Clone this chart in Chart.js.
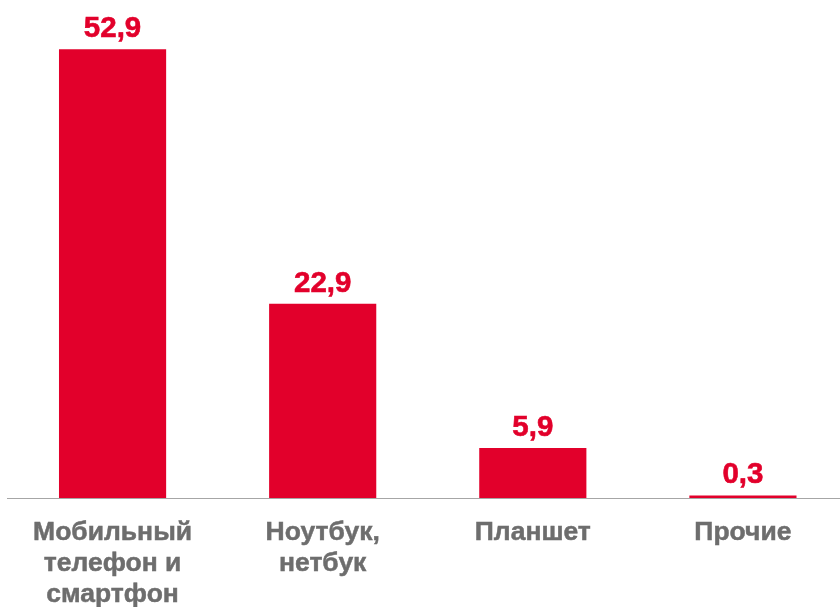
<!DOCTYPE html>
<html><head><meta charset="utf-8">
<script src="https://cdn.jsdelivr.net/npm/chart.js@4/dist/chart.umd.min.js"></script>
<style>html,body{margin:0;padding:0;overflow:hidden;background:#fff;width:840px;height:607px}
#wrap{width:848px;height:607px}</style>
</head><body>
<div id="wrap"><canvas id="c" width="848" height="607"></canvas></div>
<script>
const categories = [['Мобильный','телефон и','смартфон'], ['Ноутбук,','нетбук'], ['Планшет'], ['Прочие']];
const values = [52.9, 22.9, 5.9, 0.3];
const valueLabels = ['52,9', '22,9', '5,9', '0,3'];

const RED = '#e2002b';
const GRAY = '#6d6d6d';
const labelPlugin = {
  id: 'vals',
  afterDatasetsDraw(chart) {
    const ctx = chart.ctx;
    const meta = chart.getDatasetMeta(0);
    ctx.save();
    ctx.fillStyle = RED;
    ctx.strokeStyle = RED;
    ctx.lineWidth = 0.6;
    ctx.font = 'bold 29.5px "Liberation Sans", Arial, sans-serif';
    ctx.textAlign = 'center';
    ctx.textBaseline = 'alphabetic';
    meta.data.forEach((bar, i) => {
      ctx.fillText(valueLabels[i], bar.x, bar.y - 12);
      ctx.strokeText(valueLabels[i], bar.x, bar.y - 12);
    });
    ctx.restore();
  }
};

new Chart(document.getElementById('c'), {
  type: 'bar',
  data: {
    labels: categories,
    datasets: [{ data: values, backgroundColor: RED, borderWidth: 0,
      barPercentage: 0.51, categoryPercentage: 1 }]
  },
  options: {
    responsive: false,
    animation: false,
    layout: { padding: { left: 7.5, right: 0, top: 0, bottom: 0 } },
    plugins: { legend: { display: false }, tooltip: { enabled: false } },
    scales: {
      y: { display: false, min: 0, max: 58.7 },
      x: {
        grid: { display: false },
        border: { display: true, color: '#a6a6a6', width: 1 },
        ticks: {
          color: GRAY,
          textStrokeColor: GRAY,
          textStrokeWidth: 0.5,
          font: { family: '"Liberation Sans", Arial, sans-serif', size: 26.5, weight: 'bold', lineHeight: 1.17 },
          padding: 11,
          maxRotation: 0, autoSkip: false
        },
        afterFit(scale) { scale.height = 109; }
      }
    }
  },
  plugins: [labelPlugin]
});
</script>
</body></html>
